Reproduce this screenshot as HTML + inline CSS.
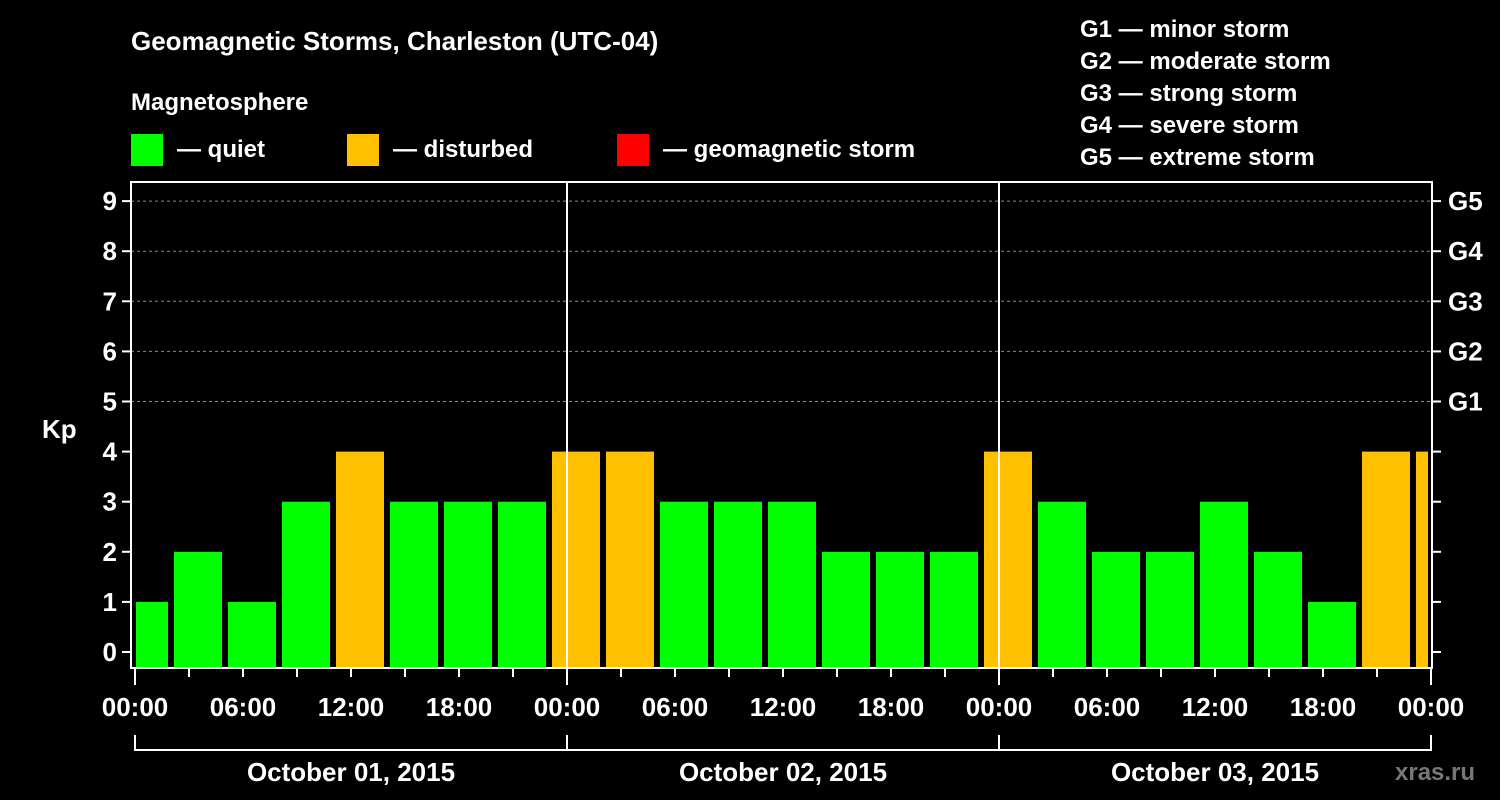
<!DOCTYPE html>
<html><head><meta charset="utf-8"><style>
html,body{margin:0;padding:0;background:#000;}
svg{display:block;font-family:"Liberation Sans",sans-serif;font-weight:bold;}
</style></head><body>
<svg id="chart" width="1500" height="800" viewBox="0 0 1500 800">
<text x="131" y="50" fill="#fff" font-size="26">Geomagnetic Storms, Charleston (UTC-04)</text>
<text x="131" y="110" fill="#fff" font-size="24">Magnetosphere</text>
<g><rect x="131" y="134" width="32" height="32" fill="#00ff00"/><text x="177" y="157" fill="#fff" font-size="24">— quiet</text></g>
<g><rect x="347" y="134" width="32" height="32" fill="#ffc000"/><text x="393" y="157" fill="#fff" font-size="24">— disturbed</text></g>
<g><rect x="617" y="134" width="32" height="32" fill="#ff0000"/><text x="663" y="157" fill="#fff" font-size="24">— geomagnetic storm</text></g>
<g fill="#fff" font-size="24">
<text x="1080" y="37">G1 — minor storm</text><text x="1080" y="69">G2 — moderate storm</text><text x="1080" y="101">G3 — strong storm</text><text x="1080" y="133">G4 — severe storm</text><text x="1080" y="165">G5 — extreme storm</text></g>
<text x="42" y="438" fill="#fff" font-size="26">Kp</text>
<text x="1395" y="780" fill="#777" font-size="24">xras.ru</text>
<g id="grid"></g><g id="bars"></g><g id="axes"></g>
</svg>
<script>
const kpValues=[1,2,1,3,4,3,3,3,4,4,3,3,3,2,2,2,4,3,2,2,3,2,1,4,4];
const barStartHours=[-1,2,5,8,11,14,17,20,23,26,29,32,35,38,41,44,47,50,53,56,59,62,65,68,71];
const yTicks=[0,1,2,3,4,5,6,7,8,9];
const gLabels=["G1","G2","G3","G4","G5"];
const xTickLabels=["00:00","06:00","12:00","18:00","00:00","06:00","12:00","18:00","00:00","06:00","12:00","18:00","00:00"];
const dayLabels=["October 01, 2015","October 02, 2015","October 03, 2015"];
const NS="http://www.w3.org/2000/svg";
const X0=135,PXH=18,Y0=652,PXU=50.1,LEFT=131,RIGHT=1432,TOP=182,BOT=668,TOTAL=72;
const xs=h=>X0+h*PXH, ys=v=>Y0-v*PXU;
function mk(t,a,p){const e=document.createElementNS(NS,t);for(const k in a)e.setAttribute(k,a[k]);p.appendChild(e);return e;}
const grid=document.getElementById('grid'),bars=document.getElementById('bars'),axes=document.getElementById('axes');
for(let v=5;v<=9;v++){const l=mk('line',{x1:LEFT,x2:RIGHT,y1:ys(v),y2:ys(v),stroke:'#888','stroke-dasharray':'3,3'},grid);

}
kpValues.forEach((v,i)=>{
 const s=Math.max(xs(barStartHours[i])+3,LEFT+5), e=Math.min(xs(barStartHours[i]+3)-3,RIGHT-4);
 const c=v>=5?'#ff0000':(v>=4?'#ffc000':'#00ff00');
 const r=mk('rect',{x:s,y:ys(v),width:e-s,height:BOT-ys(v),fill:c},bars);
 
 
});
mk('rect',{x:LEFT,y:TOP,width:RIGHT-LEFT,height:BOT-TOP,fill:'none',stroke:'#fff','stroke-width':2},axes);
[1,2].forEach(d=>{const l=mk('line',{x1:xs(d*24),x2:xs(d*24),y1:TOP,y2:BOT,stroke:'#fff','stroke-width':2},axes);

});
yTicks.forEach(v=>{
 mk('line',{x1:LEFT-9,x2:LEFT,y1:ys(v),y2:ys(v),stroke:'#fff','stroke-width':2},axes);
 mk('line',{x1:RIGHT,x2:RIGHT+9,y1:ys(v),y2:ys(v),stroke:'#fff','stroke-width':2},axes);
 const t=mk('text',{x:LEFT-14,y:ys(v)+9,fill:'#fff','font-size':26,'text-anchor':'end'},axes);t.textContent=v;
 
 
});
gLabels.forEach((g,i)=>{const t=mk('text',{x:RIGHT+16,y:ys(i+5)+9,fill:'#fff','font-size':26},axes);t.textContent=g;
 
 });
for(let h=0;h<=TOTAL;h+=3){const big=h%24===0;
 mk('line',{x1:xs(h),x2:xs(h),y1:BOT,y2:BOT+(big?17:9),stroke:'#fff','stroke-width':2},axes);}
xTickLabels.forEach((s,i)=>{const t=mk('text',{x:xs(i*6),y:716,fill:'#fff','font-size':26,'text-anchor':'middle'},axes);t.textContent=s;
 
 });
mk('line',{x1:xs(0),x2:xs(TOTAL),y1:750,y2:750,stroke:'#fff','stroke-width':2},axes);
for(let d=0;d<=3;d++)mk('line',{x1:xs(d*24),x2:xs(d*24),y1:735,y2:751,stroke:'#fff','stroke-width':2},axes);
dayLabels.forEach((s,i)=>{const t=mk('text',{x:xs(i*24+12),y:781,fill:'#fff','font-size':26,'text-anchor':'middle'},axes);t.textContent=s;
 
 });
</script>
</body></html>
